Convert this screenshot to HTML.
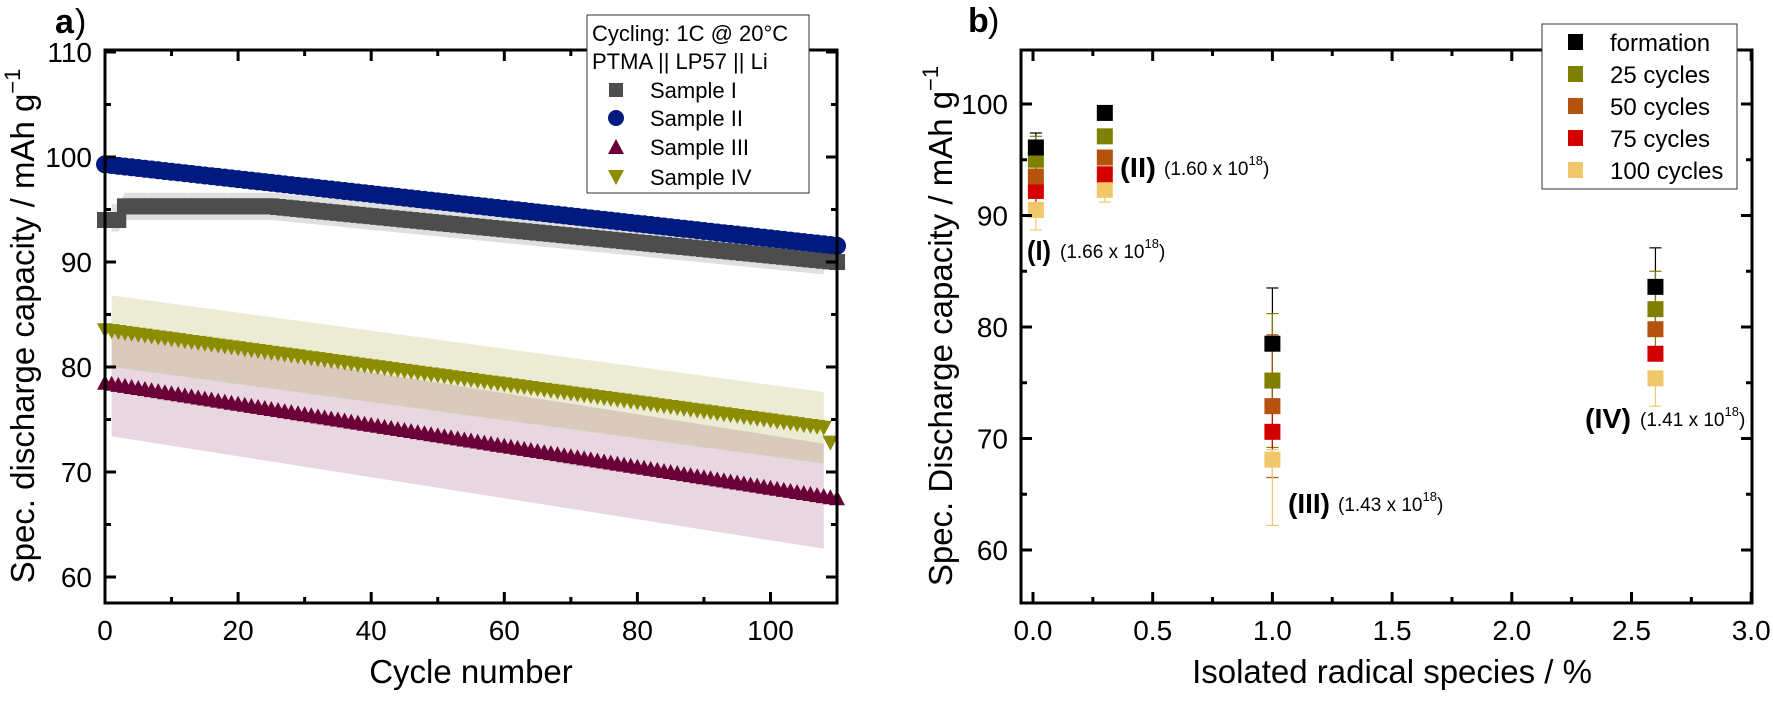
<!DOCTYPE html>
<html><head><meta charset="utf-8">
<style>
html,body{margin:0;padding:0;background:#fff;}
svg{display:block;font-family:"Liberation Sans",Arial,sans-serif;}
</style></head>
<body>
<svg id="s" width="1773" height="702" viewBox="0 0 1773 702" xmlns="http://www.w3.org/2000/svg">
<rect width="1773" height="702" fill="#fff"/>
<g id="A"></g>
<g id="B"></g>
<text x="55" y="33" font-size="34" font-weight="bold">a</text><text x="75" y="33" font-size="34">)</text>
<text x="968" y="32" font-size="34" font-weight="bold">b</text><text x="988" y="32" font-size="34">)</text>
<text x="471" y="683" font-size="33" text-anchor="middle">Cycle number</text>
<text transform="translate(34,326) rotate(-90)" font-size="33" text-anchor="middle">Spec. discharge capacity / mAh g<tspan font-size="22" dy="-14">−1</tspan></text>
<text x="1392" y="683" font-size="33" text-anchor="middle">Isolated radical species / %</text>
<text transform="translate(952,326) rotate(-90)" font-size="33" text-anchor="middle">Spec. Discharge capacity / mAh g<tspan font-size="22" dy="-14">−1</tspan></text>
</svg>
<script>
var NS="http://www.w3.org/2000/svg";
function el(p,t,a,txt){var e=document.createElementNS(NS,t);for(var k in a)e.setAttribute(k,a[k]);if(txt!==undefined)e.textContent=txt;p.appendChild(e);return e;}
var A=document.getElementById("A"),B=document.getElementById("B");
function X(c){return 105+c*6.655;} function Y(v){return 577-(v-60)*10.5;}
function cI(c){return c<3?94:(c<25?95.3:95.3-(c-25)*0.0624);}
function cII(c){return 99.3-0.0705*c;}
function cIII(c){return 78.5-0.1*c;}
function cIV(c){return c>=109?72.8:83.5-0.086*c;}
function band(f,du,dl,col,op){var pts=[];for(var c=1;c<=108;c++)pts.push(X(c)+","+Y(f(c)+du));for(var c=108;c>=1;c--)pts.push(X(c)+","+Y(f(c)-dl));el(A,"polygon",{points:pts.join(" "),fill:col,"fill-opacity":op});}
band(cIII,5,5,"rgb(120,10,70)",0.17);
band(cIV,3.4,3.4,"rgb(150,150,20)",0.18);
band(function(c){return c<3?94.2:cI(c);},1.3,1.3,"rgb(150,150,150)",0.3);
for(var c=0;c<=110;c++){var x=X(c),y=Y(cI(c));el(A,"rect",{x:x-8,y:y-8,width:16,height:16,fill:"#4d4d4d"});}
for(var c=0;c<=110;c++){el(A,"circle",{cx:X(c),cy:Y(cII(c)),r:9,fill:"#001a80"});}
for(var c=0;c<=110;c++){var x=X(c),y=Y(cIII(c));el(A,"polygon",{points:(x-8)+","+(y+7)+" "+(x+8)+","+(y+7)+" "+x+","+(y-8),fill:"#6b0038"});}
for(var c=0;c<=109;c++){var x=X(c),y=Y(cIV(c));el(A,"polygon",{points:(x-8)+","+(y-7)+" "+(x+8)+","+(y-7)+" "+x+","+(y+8),fill:"#8c8c00"});}
el(A,"rect",{x:105,y:50,width:732,height:553,fill:"none",stroke:"#000","stroke-width":3});
for(var c=0;c<=110;c+=10){var x=X(c),L=(c%20==0)?11:6;el(A,"line",{x1:x,y1:603,x2:x,y2:603-L,stroke:"#000","stroke-width":3});el(A,"line",{x1:x,y1:50,x2:x,y2:50+L,stroke:"#000","stroke-width":3});
 if(c%20==0)el(A,"text",{x:x,y:640,"font-size":28,"text-anchor":"middle"},""+c);}
for(var v=60;v<=110;v+=5){var y=Y(v),L=(v%10==0)?11:6;el(A,"line",{x1:105,y1:y,x2:105+L,y2:y,stroke:"#000","stroke-width":3});el(A,"line",{x1:837,y1:y,x2:837-L,y2:y,stroke:"#000","stroke-width":3});
 if(v%10==0)el(A,"text",{x:92,y:y+10,"font-size":28,"text-anchor":"end"},""+v);}
el(A,"rect",{x:587,y:15,width:222,height:178,fill:"#fff",stroke:"#333","stroke-width":1});
el(A,"text",{x:592,y:41,"font-size":22},"Cycling: 1C @ 20°C");
el(A,"text",{x:592,y:69,"font-size":22},"PTMA || LP57 || Li");
var ly=[90,118,147,177],ln=["Sample I","Sample II","Sample III","Sample IV"];
for(var i=0;i<4;i++)el(A,"text",{x:650,y:ly[i]+8,"font-size":22},ln[i]);
el(A,"rect",{x:609,y:83,width:14,height:14,fill:"#4d4d4d"});
el(A,"circle",{cx:616,cy:118,r:8,fill:"#001a80"});
el(A,"polygon",{points:"608,154 624,154 616,139",fill:"#6b0038"});
el(A,"polygon",{points:"608,170 624,170 616,185",fill:"#8c8c00"});
function XB(p){return 1033+p*239.4;} function YB(v){return 550-(v-60)*11.15;}
var cols=["#000000","#7f7f00","#b5520e","#d40000","#f0c86a"];
var data=[
 {p:0.012,v:[96.1,95,93.5,92.2,90.5],hi:[97.4,97.1,95,93.4,91],lo:[95,94,92.2,91,88.7]},
 {p:0.3,v:[99.2,97.1,95.2,93.7,92.3],hi:[99.5,97.4,95.4,94.3,93.1],lo:[98.9,96.8,94.9,93.2,91.2]},
 {p:1.0,v:[78.5,75.2,72.9,70.6,68.1],hi:[83.5,81.2,79.3,72.5,69],lo:[73.5,69.2,66.5,68.7,62.2]},
 {p:2.6,v:[83.6,81.6,79.8,77.6,75.4],hi:[87.1,85,80,78.2,76],lo:[80.1,78.2,79.6,77,72.9]}];
data.forEach(function(d){var x=XB(d.p);
 for(var i=0;i<5;i++){el(B,"line",{x1:x,y1:YB(d.hi[i]),x2:x,y2:YB(d.lo[i]),stroke:cols[i],"stroke-width":1.2});
  [d.hi[i],d.lo[i]].forEach(function(v){el(B,"line",{x1:x-6,y1:YB(v),x2:x+6,y2:YB(v),stroke:cols[i],"stroke-width":1.2});});}
 for(var i=4;i>=0;i--){var y=YB(d.v[i]);el(B,"rect",{x:x-8,y:y-8,width:16,height:16,fill:cols[i]});}
});
el(B,"rect",{x:1021,y:50,width:731,height:553,fill:"none",stroke:"#000","stroke-width":3});
for(var k=0;k<=12;k++){var p=k*0.25,x=XB(p),L=(k%2==0)?11:6;el(B,"line",{x1:x,y1:603,x2:x,y2:603-L,stroke:"#000","stroke-width":3});el(B,"line",{x1:x,y1:50,x2:x,y2:50+L,stroke:"#000","stroke-width":3});
 if(k%2==0)el(B,"text",{x:x,y:640,"font-size":28,"text-anchor":"middle"},p.toFixed(1));}
for(var v=60;v<=100;v+=5){var y=YB(v),L=(v%10==0)?11:6;el(B,"line",{x1:1021,y1:y,x2:1021+L,y2:y,stroke:"#000","stroke-width":3});el(B,"line",{x1:1752,y1:y,x2:1752-L,y2:y,stroke:"#000","stroke-width":3});
 if(v%10==0)el(B,"text",{x:1008,y:y+10,"font-size":28,"text-anchor":"end"},""+v);}
function ann(xb,w,y,lab,num,xn){el(B,"text",{x:xb,y:y+10,"font-size":28,"font-weight":"bold",textLength:w,lengthAdjust:"spacingAndGlyphs"},lab);
 var t=el(B,"text",{x:xn,y:y+8,"font-size":19});t.textContent="("+num+" x 10";el(t,"tspan",{"font-size":13,dy:-10},"18");el(t,"tspan",{dy:10,"font-size":19},")");}
ann(1027,24,250,"(I)","1.66",1060);
ann(1120,36,167,"(II)","1.60",1164);
ann(1288,42,503,"(III)","1.43",1338);
ann(1585,46,418,"(IV)","1.41",1640);
el(B,"rect",{x:1542,y:24,width:195,height:165,fill:"#fff",stroke:"#333","stroke-width":1});
var lb=["formation","25 cycles","50 cycles","75 cycles","100 cycles"];
for(var i=0;i<5;i++){var y=42+i*32;el(B,"rect",{x:1568,y:y-8,width:15,height:16,fill:cols[i]});el(B,"text",{x:1610,y:y+9,"font-size":24},lb[i]);}
</script>
</body></html>
